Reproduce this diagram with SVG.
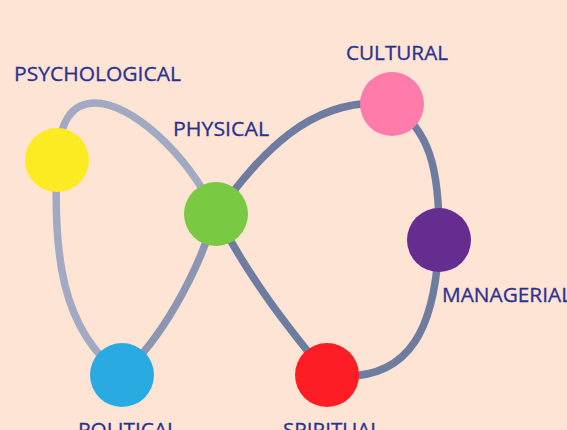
<svg xmlns="http://www.w3.org/2000/svg" width="567" height="430" viewBox="0 0 567 430">
<style>
.lbl{font-family:"Open Sans","Noto Sans",sans-serif;font-size:20.5px;fill:#2B3190;stroke:#2B3190;stroke-width:0.3}
.light{fill:none;stroke:#A2AAC3;stroke-width:7.5;stroke-linecap:round}
.mid{fill:none;stroke:#8C96B3;stroke-width:7.5;stroke-linecap:round}
.dark{fill:none;stroke:#6E7CA0;stroke-width:7.5;stroke-linecap:round}
</style>
<rect width="567" height="430" fill="#FEE4D4"/>
<g id="connectors">
<path class="light" d="M57,160 C60,120 72,103 95,103 C130,103 185,150 216,214"/>
<path class="light" d="M57,160 C53,250 60,330 122,375"/>
<path class="mid" d="M122,375 C160,340 195,280 216,214"/>
<path class="dark" d="M216,214 C260,155 310,95 392,104"/>
<path class="dark" d="M392,104 C428,130 440,165 439,240"/>
<path class="dark" d="M439,240 C436,320 415,386 327,375"/>
<path class="dark" d="M216,214 C250,280 290,330 327,375"/>
</g>
<g id="psychological"><circle cx="57" cy="160" r="32" fill="#FCEB23"/><text class="lbl" x="14" y="81" textLength="167" lengthAdjust="spacingAndGlyphs">PSYCHOLOGICAL</text></g>
<g id="physical"><circle cx="216" cy="214" r="32" fill="#7AC943"/><text class="lbl" x="173" y="136" textLength="96" lengthAdjust="spacingAndGlyphs">PHYSICAL</text></g>
<g id="cultural"><circle cx="392" cy="104" r="32" fill="#FF7BAC"/><text class="lbl" x="346" y="60" textLength="102" lengthAdjust="spacingAndGlyphs">CULTURAL</text></g>
<g id="managerial"><circle cx="439" cy="240" r="32" fill="#662D91"/><text class="lbl" x="442" y="302" textLength="130" lengthAdjust="spacingAndGlyphs">MANAGERIAL</text></g>
<g id="political"><circle cx="122" cy="375" r="32" fill="#29ABE2"/><text class="lbl" x="78" y="437" textLength="100" lengthAdjust="spacingAndGlyphs">POLITICAL</text></g>
<g id="spiritual"><circle cx="327" cy="375" r="32" fill="#FF1D25"/><text class="lbl" x="283" y="437" textLength="98" lengthAdjust="spacingAndGlyphs">SPIRITUAL</text></g>
</svg>
